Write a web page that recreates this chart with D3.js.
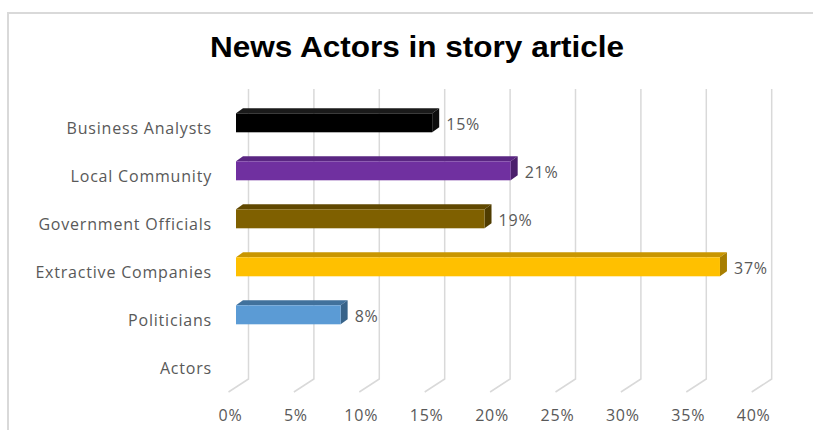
<!DOCTYPE html>
<html>
<head>
<meta charset="utf-8">
<script src="https://cdn.jsdelivr.net/npm/d3@7"></script>
<style>
  body { margin: 0; background: #fff; }
  svg { display: block; }
  .lbl { font-family: 'Open Sans', sans-serif; font-size: 16px; fill: #595959; letter-spacing: 0.8px; }
</style>
</head>
<body>
<svg class="chart"></svg>
<script>
// chart data, top row first
var categories = ["Business Analysts", "Local Community", "Government Officials", "Extractive Companies", "Politicians", "Actors"];
var values = [0.15, 0.21, 0.19, 0.37, 0.08, null];
var frontColors = ["#000000", "#7030a0", "#7f6000", "#ffc000", "#5b9bd5", "none"];
var topColors = ["#1a1a1a", "#5a2682", "#604800", "#c99600", "#41719c", "none"];
var sideColors = ["#0d0d0d", "#4b1f6c", "#4f3c00", "#a87e00", "#386389", "none"];
var tickValues = [0, 0.05, 0.1, 0.15, 0.2, 0.25, 0.3, 0.35, 0.4];

var width = 813, height = 430;
var depth = {dx: 7, dy: -5};      // bar depth offset
var wall = {dx: 12.5, dy: 0};      // back wall offset from bar front
var floorDrop = {dx: -20, dy: 13}; // floor line from wall to front

var svg = d3.select(".chart")
    .attr("width", width)
    .attr("height", height);

// outer chart border (only left and top show inside the frame)
svg.append("rect")
    .attr("x", 8).attr("y", 13)
    .attr("width", 900).attr("height", 500)
    .attr("fill", "#fff")
    .attr("stroke", "#d9d9d9")
    .attr("stroke-width", 2);

svg.append("text")
    .attr("x", 417).attr("y", 57)
    .attr("text-anchor", "middle")
    .attr("textLength", 414)
    .attr("lengthAdjust", "spacingAndGlyphs")
    .style("font-family", "'Liberation Sans', Arial, sans-serif")
    .style("font-weight", "bold")
    .style("font-size", "30px")
    .attr("fill", "#000")
    .text("News Actors in story article");

var x = d3.scaleLinear()
    .domain([0, 0.4])
    .range([236, 759.2]);

var y = d3.scaleBand()
    .domain(categories)
    .range([104.3, 392.3]);

var gridTop = 89, gridBottom = 379;

// gridlines on back wall + floor diagonals
var grid = svg.append("g").attr("class", "grid");
grid.selectAll("path")
    .data(tickValues)
  .enter().append("path")
    .attr("d", function(d) {
      var gx = x(d) + wall.dx;
      return "M" + gx + "," + gridTop + "V" + gridBottom +
        "l" + floorDrop.dx + "," + floorDrop.dy;
    })
    .attr("fill", "none")
    .attr("stroke", "#d9d9d9")
    .attr("stroke-width", 1.5);

// x tick labels
svg.append("g").selectAll("text")
    .data(tickValues)
  .enter().append("text")
    .attr("class", "lbl")
    .attr("x", function(d) { return x(d) - 5.5; })
    .attr("y", 421)
    .attr("text-anchor", "middle")
    .text(d3.format(".0%"));

// category labels
svg.append("g").selectAll("text")
    .data(categories)
  .enter().append("text")
    .attr("class", "lbl")
    .attr("x", 212)
    .attr("y", function(d) { return y(d) + y.bandwidth() / 2 + 5.5; })
    .attr("text-anchor", "end")
    .text(function(d) { return d; });

// 3d bars
var rows = categories.map(function(c, i) {
  return {cat: c, value: values[i], front: frontColors[i], top: topColors[i], side: sideColors[i]};
}).filter(function(d) { return d.value != null; });

var barH = 19;
var bars = svg.append("g").selectAll("g")
    .data(rows)
  .enter().append("g");

function frontTop(d) { return y(d.cat) + y.bandwidth() / 2 - 15; }

bars.append("path") // top face
    .attr("d", function(d) {
      var x0 = x(0), x1 = x(d.value), t = frontTop(d);
      return "M" + x0 + "," + t + "L" + (x0 + depth.dx) + "," + (t + depth.dy) +
        "L" + (x1 + depth.dx) + "," + (t + depth.dy) + "L" + x1 + "," + t + "Z";
    })
    .attr("fill", function(d) { return d.top; });

bars.append("path") // side face
    .attr("d", function(d) {
      var x1 = x(d.value), t = frontTop(d);
      return "M" + x1 + "," + t + "L" + (x1 + depth.dx) + "," + (t + depth.dy) +
        "L" + (x1 + depth.dx) + "," + (t + depth.dy + barH) + "L" + x1 + "," + (t + barH) + "Z";
    })
    .attr("fill", function(d) { return d.side; });

bars.append("rect") // front face
    .attr("x", x(0))
    .attr("y", frontTop)
    .attr("width", function(d) { return x(d.value) - x(0); })
    .attr("height", barH)
    .attr("fill", function(d) { return d.front; });

// data labels
bars.append("text")
    .attr("class", "lbl")
    .attr("x", function(d) { return x(d.value) + 14; })
    .attr("y", function(d) { return y(d.cat) + y.bandwidth() / 2 + 1.5; })
    .text(function(d) { return d3.format(".0%")(d.value); });
</script>
</body>
</html>
